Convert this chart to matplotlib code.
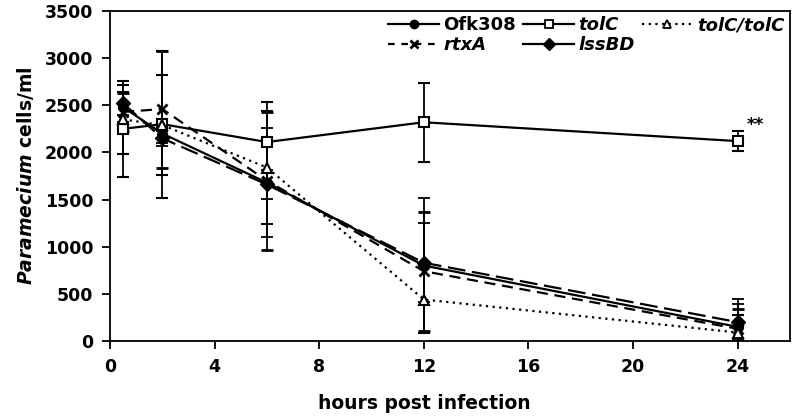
import matplotlib
matplotlib.use("Agg")
import matplotlib.pyplot as plt
from matplotlib.lines import Line2D

plt.rcParams['font.family'] = ['DejaVu Sans']
plt.rcParams['font.weight'] = 'bold'
plt.rcParams['mathtext.fontset'] = 'custom'
plt.rcParams['mathtext.it'] = 'DejaVu Sans:italic:bold'
plt.rcParams['mathtext.rm'] = 'DejaVu Sans:bold'

hours = [0.5, 2, 6, 12, 24]

ofk308 = [2480, 2200, 1680, 800, 150]
ofk308_err = [160, 100, 580, 720, 300]

tolc = [2250, 2300, 2110, 2320, 2120]
tolc_err = [510, 780, 420, 420, 110]

tolc_tolc = [2350, 2290, 1840, 440, 90]
tolc_tolc_err = [370, 530, 600, 360, 190]

rtxa = [2430, 2460, 1700, 740, 130]
rtxa_err = [200, 620, 730, 630, 210]

lssbd = [2520, 2150, 1660, 830, 200]
lssbd_err = [120, 80, 150, 420, 190]

x_ticks = [0, 4, 8, 12, 16, 20, 24]
y_ticks = [0, 500, 1000, 1500, 2000, 2500, 3000, 3500]

fig = plt.figure(figsize=(7.93, 4.16), dpi=100)
ax = fig.add_axes([110/793, 1-341/416, (790-110)/793, (341-11)/416])

common = dict(color='black', lw=1.6, capsize=4, elinewidth=1.3, capthick=1.3, markersize=7)

ax.errorbar(hours, ofk308, yerr=ofk308_err, fmt='-o', **common)
ax.errorbar(hours, rtxa, yerr=rtxa_err, fmt='x', ls=(0, (5, 3)), mew=2, **common)
ax.errorbar(hours, tolc, yerr=tolc_err, fmt='-s', mfc='white', mew=1.5, **common)
ax.errorbar(hours, lssbd, yerr=lssbd_err, fmt='D', ls=(0, (8, 3)), **common)
ax.errorbar(hours, tolc_tolc, yerr=tolc_tolc_err, fmt='^', ls=(0, (1, 2)), mfc='white', mew=1.5, **common)

ax.set_xlim(0, 26)
ax.set_ylim(0, 3500)
ax.set_xticks(x_ticks)
ax.set_yticks(y_ticks)
ax.tick_params(direction='out', length=6, width=1.3, labelsize=12.5, pad=6)
for s in ax.spines.values():
    s.set_linewidth(1.3)
for t in ax.get_xticklabels() + ax.get_yticklabels():
    t.set_fontweight('bold')

ax.set_xlabel('hours post infection', fontsize=13.5, fontweight='bold')
ax.xaxis.set_label_coords(12/26, -0.16)
ax.set_ylabel(r'$\mathit{Paramecium}$ cells/ml', fontsize=13.5, fontweight='bold', labelpad=6)

ax.text(24.35, 2290, '**', fontsize=12, fontweight='bold', ha='left', va='center')

lk = dict(color='black', lw=1.6, markersize=6)
handles = [
    Line2D([], [], marker='o', ls='-', **lk),
    Line2D([], [], marker='x', ls=(0, (3, 3)), mew=2, **lk),
    Line2D([], [], marker='s', ls='-', mfc='white', mew=1.3, **lk),
    Line2D([], [], marker='D', ls='-', **lk),
    Line2D([], [], marker='^', ls=(0, (1, 2)), mfc='white', mew=1.3, **lk),
]
labels = ['Ofk308', 'rtxA', 'tolC', 'lssBD', 'tolC/tolC']
leg = ax.legend(handles, labels, ncol=3, loc='upper right', frameon=False,
                prop={'weight': 'bold', 'size': 13}, handlelength=2.8,
                handletextpad=0.25, columnspacing=0.4, labelspacing=0.1,
                borderaxespad=0.0, borderpad=0.3)
for t in leg.get_texts():
    if t.get_text() != 'Ofk308':
        t.set_style('italic')

fig.savefig('out.png', dpi=100)
